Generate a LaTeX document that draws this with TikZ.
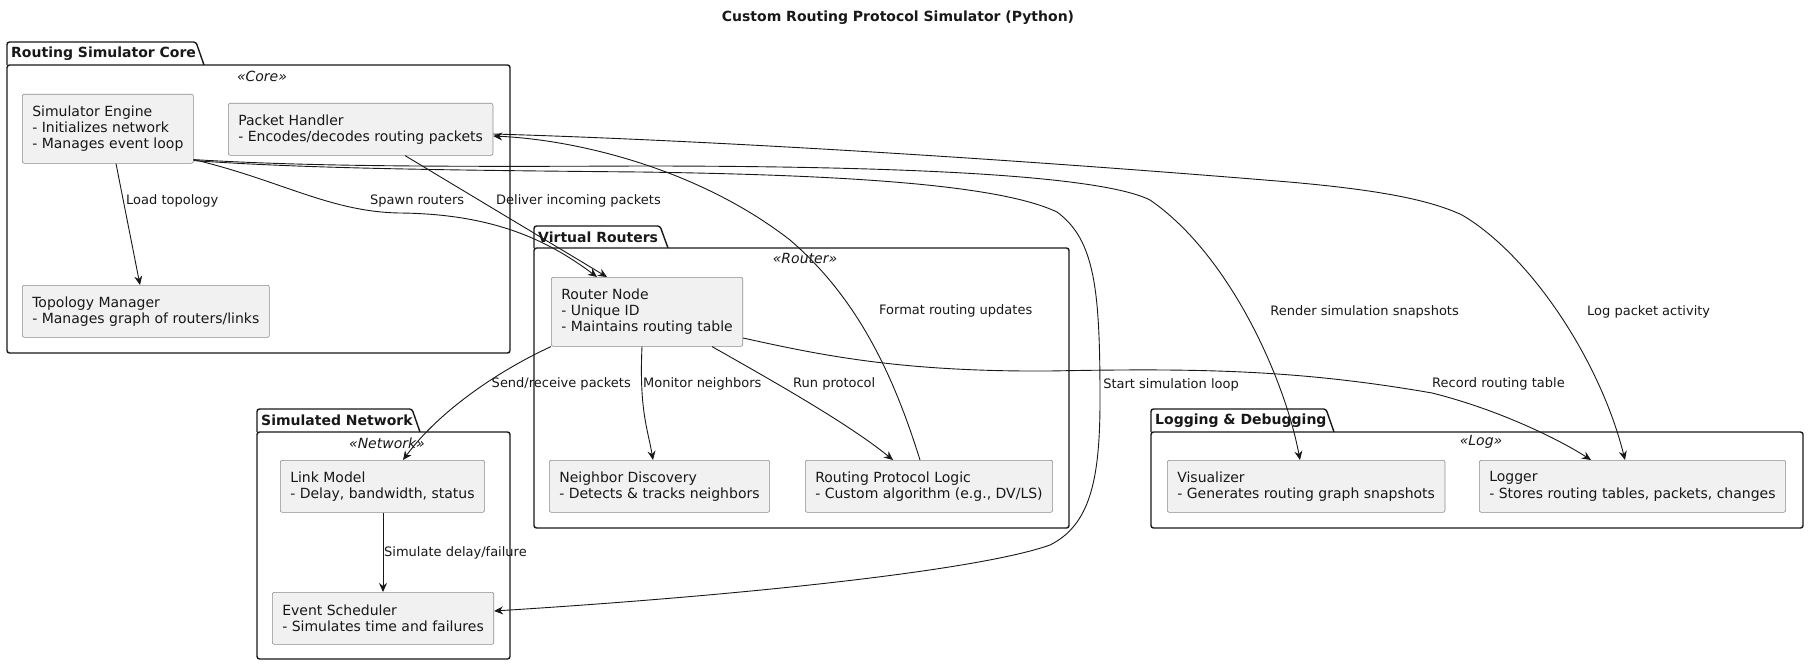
\documentclass[tikz,border=0pt]{standalone}
\usepackage{fontspec}
\setmainfont{DejaVu Sans}
\usetikzlibrary{arrows.meta}
\definecolor{boxfill}{HTML}{F1F1F1}
\definecolor{boxline}{HTML}{8C8C8C}
\definecolor{ink}{HTML}{181818}
\begin{document}
\begin{tikzpicture}[x=1pt,y=-1pt,
 comp/.style={draw=boxline, fill=boxfill, line width=0.6pt, rounded corners=2pt, anchor=north west, align=left, inner xsep=10pt, inner ysep=0pt, font=\fontsize{14}{16.3}\selectfont, text=ink},
 pkg/.style={draw=ink, line width=1.4pt, rounded corners=2.5pt},
 pkgname/.style={font=\fontsize{14}{16}\selectfont\bfseries, anchor=west, inner sep=0pt, text=ink},
 stereo/.style={font=\fontsize{14}{16}\selectfont\itshape, inner sep=0pt, text=ink},
 conn/.style={draw=ink, line width=0.9pt, -{Stealth[length=9pt,width=8pt,inset=3pt]}},
 lbl/.style={font=\fontsize{13}{15}\selectfont, inner sep=0pt, text=ink},
]
\useasboundingbox (0,0) rectangle (1809,666);
\fill[white] (0,0) rectangle (1809,666);

% title
\node[font=\fontsize{14}{16}\selectfont\bfseries, text=ink] (title) at (898,18) {Custom Routing Protocol Simulator (Python)};

% packages
\draw[pkg] (7,65) -- (7,42) -- (196,42) -- (204,65);
\draw[pkg] (7,65) rectangle (510,353);
\node[pkgname] (coreT) at (11,54) {Routing Simulator Core};
\node[stereo] (coreS) at (262,76) {«Core»};

\draw[pkg] (534,248) -- (534,226) -- (660,226) -- (668,248);
\draw[pkg] (534,248) rectangle (1069,528);
\node[pkgname] (vrT) at (538,237) {Virtual Routers};
\node[stereo] (vrS) at (805,258) {«Router»};

\draw[pkg] (257,432) -- (257,409) -- (412,409) -- (420,432);
\draw[pkg] (257,432) rectangle (510,659);
\node[pkgname] (snT) at (261,420.5) {Simulated Network};
\node[stereo] (snS) at (387,443) {«Network»};

\draw[pkg] (1151,432) -- (1151,409) -- (1326,409) -- (1334,432);
\draw[pkg] (1151,432) rectangle (1803,528);
\node[pkgname] (ldT) at (1155,420.5) {Logging \& Debugging};
\node[stereo] (ldS) at (1481,442) {«Log»};

% components
\node[comp, minimum height=69pt] (se) at (22,94) {Simulator Engine\\- Initializes network\\- Manages event loop};
\node[comp, minimum height=52pt] (ph) at (228,103) {Packet Handler\\- Encodes/decodes routing packets};
\node[comp, minimum height=52pt] (tm) at (22,285) {Topology Manager\\- Manages graph of routers/links};
\node[comp, minimum height=69pt] (rn) at (551,277) {Router Node\\- Unique ID\\- Maintains routing table};
\node[comp, minimum height=52pt] (nd) at (549,460) {Neighbor Discovery\\- Detects \& tracks neighbors};
\node[comp, minimum height=52pt] (rpl) at (805,460) {Routing Protocol Logic\\- Custom algorithm (e.g., DV/LS)};
\node[comp, minimum height=52pt] (lm) at (280,460) {Link Model\\- Delay, bandwidth, status};
\node[comp, minimum height=52pt] (es) at (272,592) {Event Scheduler\\- Simulates time and failures};
\node[comp, minimum height=52pt] (vis) at (1167,460) {Visualizer\\- Generates routing graph snapshots};
\node[comp, minimum height=52pt] (lg) at (1479,460) {Logger\\- Stores routing tables, packets, changes};

% connectors
\draw[conn] ([xshift=94pt]se.south west) -- ([xshift=118pt]tm.north west);
\draw[conn] ([yshift=4pt]se.south east) .. controls (280,180) and (330,212) .. (400,213)
  .. controls (490,214) and (545,238) .. ([xshift=46pt]rn.north west);
\draw[conn] ([xshift=177pt]ph.south west) -- ([xshift=56pt]rn.north west);
\draw[conn] ([yshift=4pt]se.south east) .. controls (300,166) and (420,167) .. (640,166)
  .. controls (900,166) and (1100,175) .. (1150,200)
  .. controls (1230,255) and (1285,380) .. ([xshift=133pt]vis.north west);
\draw[conn] ([yshift=3pt]se.south east) .. controls (300,168) and (420,170) .. (640,172)
  .. controls (850,175) and (1000,185) .. (1057,212)
  .. controls (1095,240) and (1100,290) .. (1100,400)
  .. controls (1100,480) and (1090,525) .. (1050,545)
  .. controls (980,570) and (750,595) .. ([yshift=-19pt]es.north east);
\draw[conn] ([yshift=-61pt]rn.north east) .. controls (820,355) and (900,372) .. (1050,371)
  .. controls (1200,368) and (1300,370) .. (1432,393)
  .. controls (1500,410) and (1560,440) .. ([xshift=112pt]lg.north west);
\draw[conn] ([yshift=-31pt]ph.north east) .. controls (700,140) and (1000,158) .. (1289,182)
  .. controls (1380,190) and (1430,200) .. (1462,215)
  .. controls (1530,255) and (1600,360) .. ([xshift=146pt]lg.north west);
\draw[conn] ([xshift=115pt]rpl.north west) .. controls (895,380) and (860,300) .. (790,240)
  .. controls (700,170) and (580,140) .. ([yshift=-33pt]ph.north east);
\draw[conn] (rn.south west) .. controls (500,370) and (440,410) .. ([xshift=123pt]lm.north west);
\draw[conn] ([xshift=91pt]rn.south west) .. controls (639,410) and (648,430) .. ([xshift=104pt]nd.north west);
\draw[conn] ([xshift=161pt]rn.south west) .. controls (780,385) and (850,425) .. ([xshift=88pt]rpl.north west);
\draw[conn] ([xshift=103pt]lm.south west) -- ([xshift=111pt]es.north west);

% labels
\node[lbl, anchor=west] (l1) at (126,201) {Load topology};
\node[lbl, anchor=west] (l2) at (370,201) {Spawn routers};
\node[lbl, anchor=west] (l3) at (496,201) {Deliver incoming packets};
\node[lbl, anchor=west] (l4) at (879,311) {Format routing updates};
\node[lbl, anchor=east] (l5) at (1459,312) {Render simulation snapshots};
\node[lbl, anchor=west] (l6) at (1587,312) {Log packet activity};
\node[lbl, anchor=east] (l7) at (631,384) {Send/receive packets};
\node[lbl, anchor=west] (l8) at (643,384) {Monitor neighbors};
\node[lbl, anchor=west] (l9) at (793,384) {Run protocol};
\node[lbl, anchor=east] (l10) at (1239,385) {Start simulation loop};
\node[lbl, anchor=west] (l11) at (1432,384) {Record routing table};
\node[lbl, anchor=west] (l12) at (384,553) {Simulate delay/failure};
\end{tikzpicture}
\end{document}
